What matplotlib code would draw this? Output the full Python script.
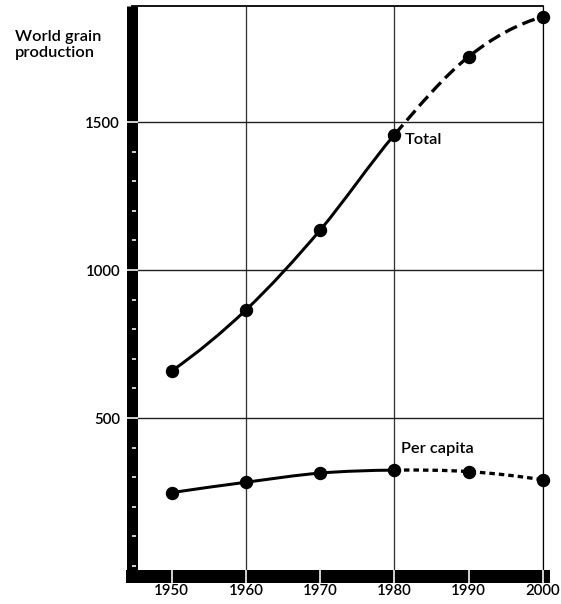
import matplotlib
matplotlib.use('Agg')
import matplotlib.pyplot as plt
import numpy as np
from matplotlib.path import Path
from matplotlib.patches import PathPatch
from matplotlib.ticker import FixedLocator

# data
years = [1950, 1960, 1970, 1980, 1990, 2000]
total = [659, 865, 1135, 1457, 1721, 1856]
per_capita = [248, 283, 314, 324, 319, 291]
year_ticks = [1950, 1960, 1970, 1980, 1990, 2000]
year_grid = [1960, 1980, 2000]
value_ticks = [500, 1000, 1500]
value_minor = [0, 100, 200, 300, 400, 600, 700, 800, 900, 1100, 1200, 1300, 1400]

plt.rc('font', family=['Lato', 'DejaVu Sans'], size=10.5, weight='semibold')
plt.rc('lines', scale_dashes=False)

PX = 72 / 100  # points per pixel at dpi 100


def bezier_path(xs, ys, i0, i1):
    # smooth cubic path through the given points, segment i0 -> i1
    pts = np.column_stack([xs, ys]).astype(float)
    n = len(pts)
    tang = np.zeros_like(pts)
    tang[1:-1] = (pts[2:] - pts[:-2]) / 2
    tang[0] = (-3 * pts[0] + 4 * pts[1] - pts[2]) / 2
    tang[-1] = (3 * pts[-1] - 4 * pts[-2] + pts[-3]) / 2
    verts = [pts[i0]]
    codes = [Path.MOVETO]
    for i in range(i0, i1):
        verts += [pts[i] + tang[i] / 3, pts[i + 1] - tang[i + 1] / 3, pts[i + 1]]
        codes += [Path.CURVE4] * 3
    return Path(verts, codes)


fig = plt.figure(figsize=(5.61, 6.04), dpi=100)
ax = fig.add_axes([131.5 / 561, 28.5 / 604, (543 - 131.5) / 561, (575.5 - 6) / 604])
ax.set_xlim(1944.6, 2000)
ax.set_ylim(-32, 1892)

# grid
for yr in year_grid:
    ax.axvline(yr, color='#333333', lw=1.3 * PX, zorder=1)
for v in value_ticks:
    ax.axhline(v, color='#222222', lw=1.4 * PX, zorder=1)

# curves
lw = 3.0 * PX
for series, style in [(total, (0, (13 * PX, 6 * PX))), (per_capita, (0, (5.5 * PX, 4 * PX)))]:
    solid = PathPatch(bezier_path(years, series, 0, 3), fill=False, lw=lw, ec='black',
                      zorder=3, clip_on=False)
    proj = PathPatch(bezier_path(years, series, 3, 5), fill=False, lw=lw * 1.1, ec='black',
                     ls=style, zorder=3, clip_on=False, capstyle='butt')
    ax.add_patch(solid)
    ax.add_patch(proj)
    ax.plot(years, series, 'o', color='black', ms=12 * PX, zorder=4, clip_on=False)

ax.text(1981.4, 1439, 'Total', va='center', ha='left', fontsize=11.8)
ax.text(1980.9, 397, 'Per capita', va='center', ha='left', fontsize=11.8)

# spines
ax.spines['left'].set_linewidth(11 * PX)
ax.spines['bottom'].set_linewidth(13 * PX)
ax.spines['left'].set_capstyle('butt')
ax.spines['bottom'].set_capstyle('projecting')
ax.spines['top'].set_linewidth(1.8 * PX)
ax.spines['right'].set_linewidth(1.2 * PX)
ax.set_axisbelow(False)

# white notches on the heavy spines
ax.set_xticks(year_ticks)
ax.set_xticklabels([str(y) for y in year_ticks])
ax.set_yticks(value_ticks)
ax.set_yticklabels([str(v) for v in value_ticks])
ax.yaxis.set_minor_locator(FixedLocator(value_minor))
ax.tick_params(axis='x', which='major', direction='inout', length=13 * PX, width=1.6 * PX,
               color='white', pad=2 * PX, labelsize=10.8)
ax.tick_params(axis='y', which='major', direction='inout', length=11 * PX, width=1.6 * PX,
               color='white', pad=6 * PX, labelsize=10.8)
ax.tick_params(axis='y', which='minor', direction='in', length=4 * PX, width=1.6 * PX,
               color='white')

fig.text(15 / 561, 1 - 57 / 604, 'World grain\nproduction', ha='left', va='baseline',
         fontsize=11.8, linespacing=1.2)

fig.savefig('out.png', dpi=100)
